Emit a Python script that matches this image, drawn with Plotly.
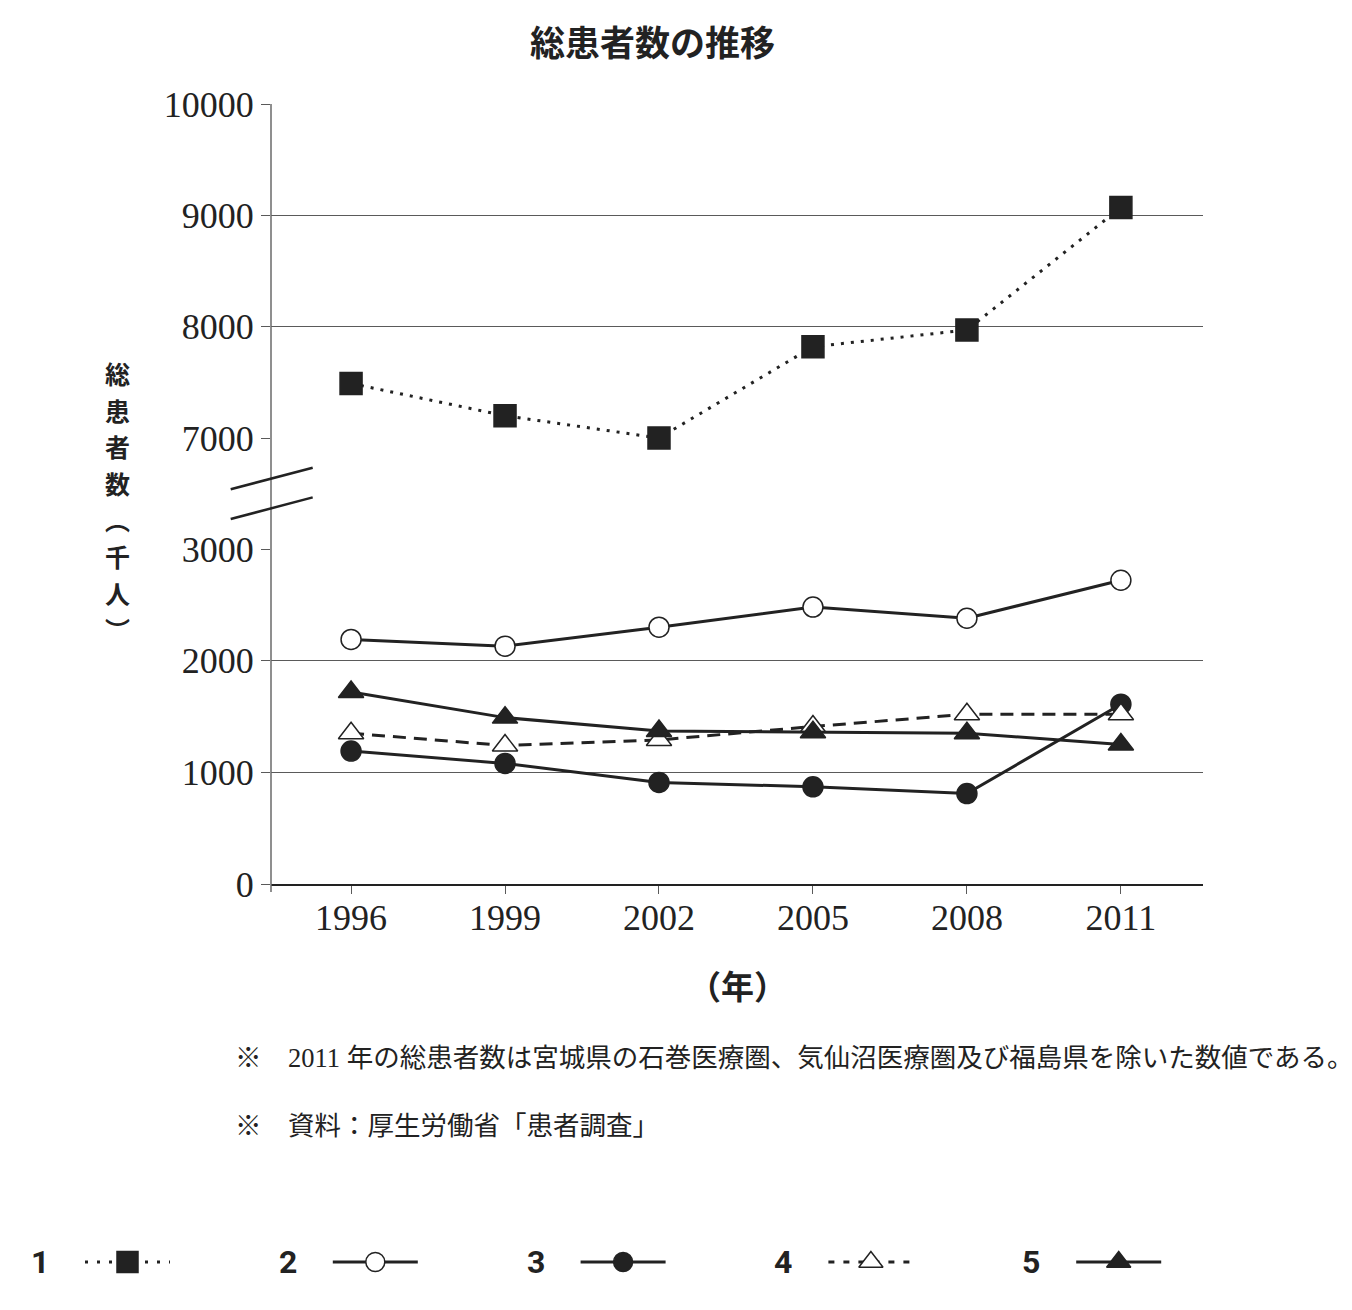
import plotly.graph_objects as go

# ---------------- data ----------------
years = [1996, 1999, 2002, 2005, 2008, 2011]
series_labels = ["1", "2", "3", "4", "5"]
s1 = [7490, 7200, 7000, 7820, 7970, 9070]
s2 = [2190, 2130, 2300, 2480, 2380, 2720]
s3 = [1190, 1080, 910, 870, 810, 1610]
s4 = [1350, 1240, 1290, 1410, 1520, 1520]
s5 = [1720, 1490, 1370, 1360, 1350, 1250]
lower_ticks = [0, 1000, 2000, 3000]
upper_ticks = [7000, 8000, 9000, 10000]
title_text = "総患者数の推移"
ytitle_chars = ["総", "患", "者", "数", "︵", "千", "人", "︶"]
xtitle_text = "（年）"
notes = ["※　2011 年の総患者数は宮城県の石巻医療圏、気仙沼医療圏及び福島県を除いた数値である。",
         "※　資料：厚生労働省「患者調査」"]

# ---------------- layout helpers ----------------
W, H = 1352, 1310
def px(x):
    return x / W
def py(y):
    return 1 - y / H

INK = "#222222"
GRID = "#5a5a5a"
SERIF = "Liberation Serif, Noto Sans CJK JP, serif"
JP = "Noto Sans CJK JP, sans-serif"

styles = [
    dict(dash="3px,7px", symbol="square", size=22, fill=INK, axis="y2"),
    dict(dash="solid", symbol="circle", size=20, fill="white", axis="y"),
    dict(dash="solid", symbol="circle", size=20, fill=INK, axis="y"),
    dict(dash="13px,8px", symbol="triangle-up", size=22, fill="white", axis="y"),
    dict(dash="solid", symbol="triangle-up", size=22, fill=INK, axis="y"),
]
all_series = [s1, s2, s3, s4, s5]

fig = go.Figure()
for vals, st, name in zip(all_series, styles, series_labels):
    fig.add_trace(go.Scatter(
        x=years, y=vals, name=name, mode="lines+markers",
        xaxis="x", yaxis=st["axis"],
        line=dict(color=INK, width=3, dash=st["dash"]),
        marker=dict(symbol=st["symbol"], size=st["size"], color=st["fill"],
                    line=dict(color=INK, width=1.5)),
        showlegend=False, cliponaxis=False))

# ---------------- custom legend row ----------------
leg_y = 1262
leg_x0 = 40
leg_step = 247.8
for i, (st, name) in enumerate(zip(styles, series_labels)):
    bx = leg_x0 + i * leg_step
    l0, l1 = bx + 45, bx + 130
    mid = (l0 + l1) / 2
    ldash = st["dash"]
    if i == 0:
        ldash = "3px,9px"
    if i == 3:
        ldash = "6px,9px"
    fig.add_trace(go.Scatter(x=[l0, l1], y=[leg_y, leg_y], mode="lines",
                             xaxis="x3", yaxis="y3", showlegend=False, hoverinfo="skip",
                             line=dict(color=INK, width=3, dash=ldash)))
    fig.add_trace(go.Scatter(x=[mid], y=[leg_y], mode="markers",
                             xaxis="x3", yaxis="y3", showlegend=False, hoverinfo="skip",
                             marker=dict(symbol=st["symbol"], size=st["size"] - 1, color=st["fill"],
                                         line=dict(color=INK, width=1.5))))
    fig.add_annotation(x=px(bx), y=py(leg_y), xref="paper", yref="paper",
                       text="<b>%s</b>" % name, showarrow=False, xanchor="center", yanchor="middle",
                       font=dict(family="Liberation Sans Narrow, Roboto, sans-serif", size=32, color=INK))

# ---------------- axes ----------------
L, R, T, B = 271, 1203, 104, 884
lower_top, upper_bottom = 549, 438

axis_common = dict(showline=False, ticks="outside", ticklen=9, tickwidth=1.3, tickcolor=GRID,
                   showgrid=True, gridcolor=GRID, gridwidth=1.2, zeroline=False, automargin=False,
                   tickfont=dict(family=SERIF, size=36, color=INK))

fig.update_layout(
    width=W, height=H, autosize=False,
    margin=dict(l=0, r=0, t=0, b=0, pad=0, autoexpand=False),
    paper_bgcolor="white", plot_bgcolor="white",
    xaxis=dict(domain=[px(L), px(R)], range=[1994.44, 2012.6], anchor="y", automargin=False,
               tickvals=years, ticktext=[str(v) for v in years],
               showline=True, linecolor=INK, linewidth=1.6,
               ticks="outside", ticklen=8, tickwidth=1.3, tickcolor=GRID,
               ticklabelstandoff=-7,
               showgrid=False, zeroline=False,
               tickfont=dict(family=SERIF, size=36, color=INK)),
    yaxis=dict(domain=[py(B), py(lower_top)], range=[0, 3000], anchor="x",
               tickvals=lower_ticks, ticktext=[str(v) for v in lower_ticks], **axis_common),
    yaxis2=dict(domain=[py(upper_bottom), py(T)], range=[7000, 10000], anchor="x",
                tickvals=upper_ticks, ticktext=[str(v) for v in upper_ticks], **axis_common),
    xaxis3=dict(domain=[0, 1], range=[0, W], anchor="y3", visible=False, fixedrange=True,
                automargin=False),
    yaxis3=dict(domain=[py(1300), py(1225)], range=[1300, 1225], anchor="x3", visible=False,
                fixedrange=True, automargin=False),
    showlegend=False,
)

# continuous y-axis line and break marks
fig.add_shape(type="line", xref="paper", yref="paper", x0=px(L), x1=px(L), y0=py(B + 8), y1=py(T),
              line=dict(color="#6a6a6a", width=1.5))
for dy in (0, 29.7):
    fig.add_shape(type="line", xref="paper", yref="paper",
                  x0=px(230.7), y0=py(489.3 + dy), x1=px(312.7), y1=py(467.7 + dy),
                  line=dict(color=INK, width=2.5))

# titles
fig.add_annotation(x=px(652), y=py(40), xref="paper", yref="paper", text="<b>%s</b>" % title_text,
                   showarrow=False, xanchor="center", yanchor="middle",
                   font=dict(family=JP, size=35, color=INK))
ychar_top, ychar_pitch = 373, 36.6
for k, ch in enumerate(ytitle_chars):
    fig.add_annotation(x=px(117), y=py(ychar_top + k * ychar_pitch), xref="paper", yref="paper",
                       text="<b>%s</b>" % ch, showarrow=False, xanchor="center", yanchor="middle",
                       font=dict(family=JP, size=25, color=INK))
fig.add_annotation(x=px(738), y=py(985), xref="paper", yref="paper", text="<b>%s</b>" % xtitle_text,
                   showarrow=False, xanchor="center", yanchor="middle",
                   font=dict(family=JP, size=33, color=INK))
for note, ny in zip(notes, (1058, 1126)):
    fig.add_annotation(x=px(233), y=py(ny), xref="paper", yref="paper", text=note,
                       showarrow=False, xanchor="left", yanchor="middle",
                       font=dict(family=SERIF, size=26.5, color=INK))

fig.write_html("out.html", include_plotlyjs=True, full_html=True,
               default_width="1352px", default_height="1310px")
